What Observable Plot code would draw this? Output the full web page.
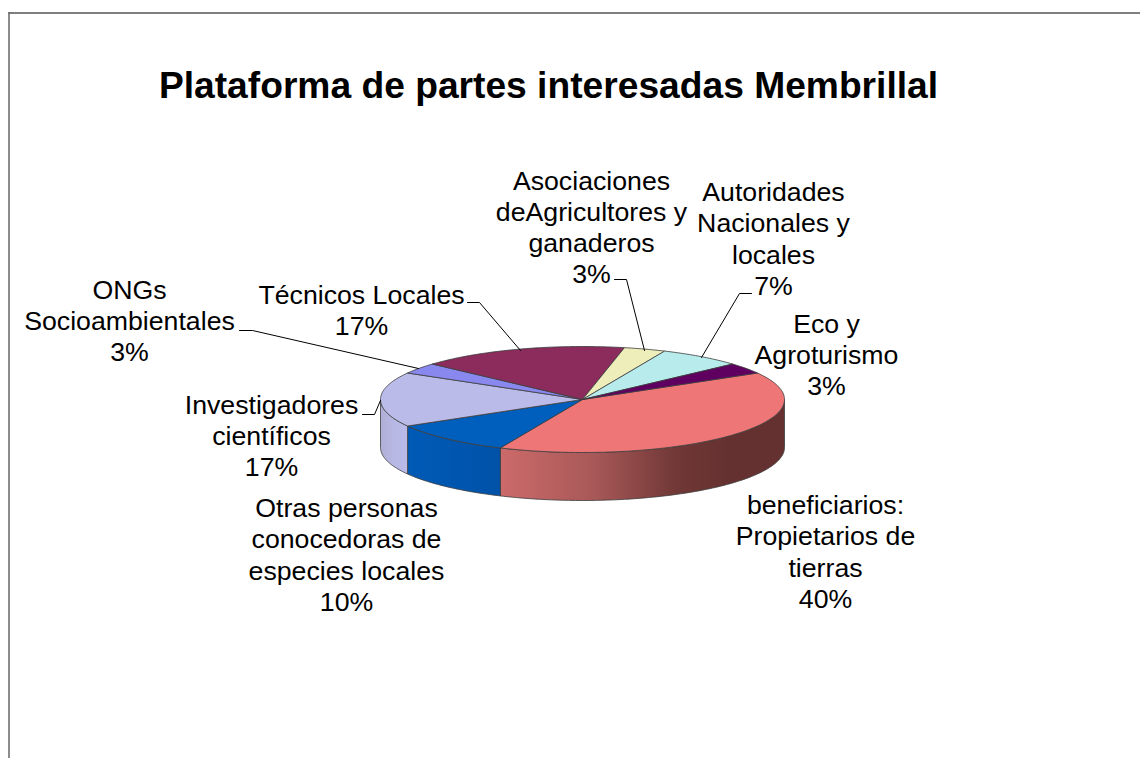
<!DOCTYPE html>
<html>
<head>
<meta charset="utf-8">
<style>html,body{margin:0;padding:0;background:#fff;overflow:hidden}svg{display:block}</style>
<script src="https://cdn.jsdelivr.net/npm/d3@7"></script>
<script src="https://cdn.jsdelivr.net/npm/@observablehq/plot@0.6"></script>
</head>
<body>
<script>
// Data: stakeholder counts, in clockwise drawing order
const names = ["beneficiarios","Otras personas","Investigadores","ONGs","Técnicos","Asociaciones","Autoridades","Eco"];
const values = [12, 3, 5, 1, 5, 1, 2, 1];
const labels = [
  "beneficiarios:\nPropietarios de\ntierras\n40%",
  "Otras personas\nconocedoras de\nespecies locales\n10%",
  "Investigadores\ncientíficos\n17%",
  "ONGs\nSocioambientales\n3%",
  "Técnicos Locales\n17%",
  "Asociaciones\ndeAgricultores y\nganaderos\n3%",
  "Autoridades\nNacionales y\nlocales\n7%",
  "Eco y\nAgroturismo\n3%"
];
const topColors = ["#ee7676","#005ebc","#bbbbea","#8888ee","#8b2c5c","#eeeebb","#b8ecec","#5f0060"];
const title = "Plataforma de partes interesadas Membrillal";

// Layout (chart space)
const pie = {cx: 582, cy: 399, rx: 202, ry: 53, depth: 48, start: 60};
const labelPos = [
  {x: 825, y: 550.5}, {x: 346, y: 553.5}, {x: 271, y: 434.5}, {x: 129, y: 319.5},
  {x: 361, y: 309}, {x: 591, y: 226}, {x: 773, y: 237.5}, {x: 826, y: 353.5}
];
const leaderPts = [
  [[467,302],[479,302],[520,350]],
  [[239,330],[252,330],[418,368]],
  [[362,414],[374,414],[380,400]],
  [[614,279],[626,279],[644,350]],
  [[751,293],[739,293],[701,357]]
];

const px = a => pie.cx + pie.rx * Math.sin(a * Math.PI / 180);
const py = a => pie.cy - pie.ry * Math.cos(a * Math.PI / 180);

const total = d3.sum(values);
let acc = pie.start;
const slices = values.map((v, i) => {
  const a0 = acc; acc += v / total * 360;
  return {name: names[i], a0, a1: acc};
});
const arc = (a0, a1) => {
  const n = Math.max(2, Math.ceil((a1 - a0) / 1));
  return d3.range(n + 1).map(k => a0 + (a1 - a0) * k / n);
};

// Top face polygons
const topPts = slices.flatMap(s => [
  {name: s.name, x: pie.cx, y: pie.cy},
  ...arc(s.a0, s.a1).map(a => ({name: s.name, x: px(a), y: py(a)})),
  {name: s.name, x: pie.cx, y: pie.cy}
]);

// Visible wall polygons (front half of the disc)
const wall = s => {
  const a0 = Math.max(s.a0, 90), a1 = Math.min(s.a1, 270);
  if (a1 <= a0) return [];
  const as = arc(a0, a1);
  const pts = [
    ...as.map(a => ({x: px(a), y: py(a)})),
    ...as.slice().reverse().map(a => ({x: px(a), y: py(a) + pie.depth}))
  ];
  pts.push(pts[0]);
  return pts;
};

const gradient = (id, stops) => () => {
  const g = d3.create("svg:linearGradient").attr("id", id);
  stops.forEach(([o, c]) => g.append("stop").attr("offset", o).attr("stop-color", c));
  return g.node();
};
const defsMark = () => {
  const defs = d3.create("svg:defs");
  [gradient("gPink", [[0,"#cc6a6a"],[0.33,"#a85858"],[0.62,"#703836"],[0.8,"#653130"],[1,"#653130"]]),
   gradient("gBlue", [[0,"#005ab6"],[1,"#0052a8"]]),
   gradient("gLav", [[0,"#aeaed6"],[0.5,"#b8b8e4"],[1,"#bbbbea"]])
  ].forEach(f => defs.append(() => f()));
  return defs.node();
};
const wallFills = {"beneficiarios":"url(#gPink)","Otras personas":"url(#gBlue)","Investigadores":"url(#gLav)"};

const edge = {stroke: "#3c3c3c", strokeWidth: 0.8};
const font = {fontFamily: "'Liberation Sans', Arial, sans-serif", fill: "#000"};

const chart = Plot.plot({
  width: 1140, height: 758, margin: 0,
  x: {domain: [0, 1140], range: [0, 1140], axis: null},
  y: {domain: [0, 758], range: [0, 758], axis: null},
  color: {domain: names, range: topColors},
  style: {background: "#fff"},
  marks: [
    defsMark,
    Plot.ruleY([12.5], {x1: 8.5, x2: 1140, stroke: "#555", strokeWidth: 1.5}),
    Plot.ruleX([8.5], {y1: 12, y2: 758, stroke: "#666", strokeWidth: 1.5}),
    ...slices.filter(s => wall(s).length).map(s =>
      Plot.line(wall(s), {x: "x", y: "y", fill: wallFills[s.name], ...edge})),
    Plot.line(topPts, {x: "x", y: "y", z: "name", fill: "name", ...edge}),
    ...leaderPts.map(l => Plot.line(l, {x: d => d[0], y: d => d[1], stroke: "#000", strokeWidth: 1})),
    Plot.text(labels, {
      x: (d, i) => labelPos[i].x, y: (d, i) => labelPos[i].y, text: d => d,
      fontSize: 26.7, lineHeight: 1.165, textAnchor: "middle", lineAnchor: "middle", ...font
    }),
    Plot.text([title], {x: [548], y: [86], text: d => d, fontSize: 37.2, fontWeight: "bold", textAnchor: "middle", lineAnchor: "middle", ...font})
  ]
});
document.body.appendChild(chart);
</script>
</body>
</html>
